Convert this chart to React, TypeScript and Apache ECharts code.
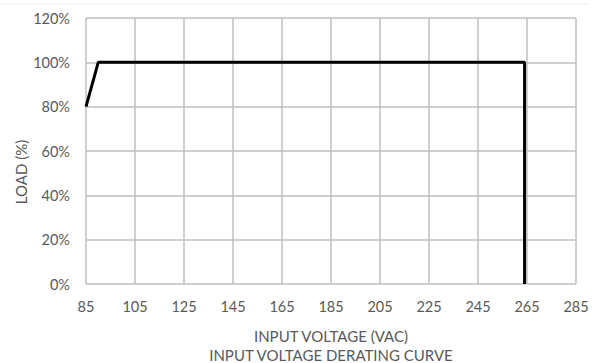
import React, { useEffect, useRef } from "react";
import * as echarts from "echarts";

const xTicks = [85, 105, 125, 145, 165, 185, 205, 225, 245, 265, 285];
const yTicks = [0, 20, 40, 60, 80, 100, 120];
const curveVoltage = [85, 90, 264, 264];
const curveLoad = [80, 100, 100, 0];
const xTitle = "INPUT VOLTAGE (VAC)";
const chartTitle = "INPUT VOLTAGE DERATING CURVE";
const yTitle = "LOAD (%)";

const FONT = "Lato, 'Open Sans', sans-serif";
const TXT = "#595959";

export default function App() {
  const ref = useRef<HTMLDivElement>(null);
  useEffect(() => {
    const chart = echarts.init(ref.current!, undefined, { renderer: "svg" });
    chart.setOption({
      animation: false,
      backgroundColor: "#ffffff",
      grid: { left: 86, right: 24, top: 18, bottom: 79, containLabel: false },
      xAxis: {
        type: "value",
        min: xTicks[0],
        max: xTicks[xTicks.length - 1],
        interval: 20,
        axisLine: { show: false },
        axisTick: { show: false },
        splitLine: { show: true, lineStyle: { color: "#bfbfbf", width: 1.5 } },
        axisLabel: { color: TXT, fontFamily: FONT, fontSize: 14.5, margin: 15 },
      },
      yAxis: {
        type: "value",
        min: yTicks[0],
        max: yTicks[yTicks.length - 1],
        interval: 20,
        axisLine: { show: false },
        axisTick: { show: false },
        splitLine: { show: true, lineStyle: { color: "#bfbfbf", width: 1.5 } },
        axisLabel: {
          color: TXT,
          fontFamily: FONT,
          fontSize: 14.5,
          margin: 16,
          formatter: (v: number) => v + "%",
        },
      },
      graphic: [
        {
          type: "line",
          shape: { x1: 0, y1: 4, x2: 590, y2: 4 },
          style: { stroke: "#efefef", lineWidth: 1 },
        },
        {
          type: "text",
          x: 331,
          y: 336,
          style: {
            text: xTitle,
            fill: TXT,
            font: `15px ${FONT}`,
            align: "center",
            verticalAlign: "middle",
          },
        },
        {
          type: "text",
          x: 331,
          y: 355,
          style: {
            text: chartTitle,
            fill: TXT,
            font: `15px ${FONT}`,
            align: "center",
            verticalAlign: "middle",
          },
        },
        {
          type: "text",
          x: 21,
          y: 172,
          rotation: Math.PI / 2,
          style: {
            text: yTitle,
            fill: TXT,
            font: `15px ${FONT}`,
            align: "center",
            verticalAlign: "middle",
          },
        },
      ],
      series: [
        {
          type: "line",
          data: curveVoltage.map((v, i) => [v, curveLoad[i]]),
          symbol: "none",
          lineStyle: { color: "#000000", width: 3 },
        },
      ],
    });
    return () => chart.dispose();
  }, []);
  return (
    <div
      ref={ref}
      style={{ position: "absolute", left: 0, top: 0, width: 600, height: 363 }}
    />
  );
}
